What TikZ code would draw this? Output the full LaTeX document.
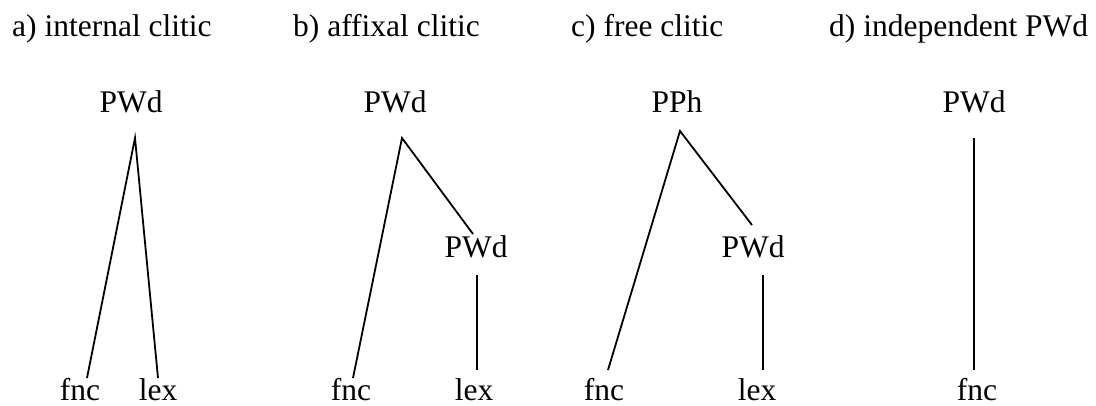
\documentclass[tikz,border=0pt]{standalone}
\usepackage{fontspec}
\setmainfont{Liberation Serif}
\begin{document}
\begin{tikzpicture}[x=1pt,y=-1pt,
  lbl/.style={inner sep=0pt, anchor=base, font=\fontsize{31.5}{36}\selectfont},
  ttl/.style={inner sep=0pt, anchor=base west, font=\fontsize{31.5}{36}\selectfont},
  edge/.style={line width=1.8pt, line cap=butt}]
\useasboundingbox (0,0) rectangle (1096,405);
% titles
\node[ttl] (ta) at (12,36) {a) internal clitic};
\node[ttl] (tb) at (293,36) {b) affixal clitic};
\node[ttl] (tc) at (571,36) {c) free clitic};
\node[ttl] (td) at (829,36) {d) independent PWd};
% a) internal clitic
\node[lbl] (aTop) at (131,112) {PWd};
\node[lbl] (aFnc) at (80,400) {fnc};
\node[lbl] (aLex) at (158,400) {lex};
\coordinate (aAp) at (135,138);
\coordinate (aF) at (87,378);
\coordinate (aL) at (158,378);
\draw[edge] (aF) -- (aAp) -- (aL);
% b) affixal clitic
\node[lbl] (bTop) at (395,112) {PWd};
\node[lbl] (bMid) at (476,257) {PWd};
\node[lbl] (bFnc) at (351,400) {fnc};
\node[lbl] (bLex) at (474,400) {lex};
\coordinate (bAp) at (402,138);
\coordinate (bF) at (353,378);
\coordinate (bM) at (473,234);
\coordinate (bV1) at (477,275);
\coordinate (bV2) at (477,370);
\draw[edge] (bF) -- (bAp) -- (bM);
\draw[edge] (bV1) -- (bV2);
% c) free clitic
\node[lbl] (cTop) at (677,112) {PPh};
\node[lbl] (cMid) at (753,257) {PWd};
\node[lbl] (cFnc) at (604,400) {fnc};
\node[lbl] (cLex) at (757,400) {lex};
\coordinate (cAp) at (680,131);
\coordinate (cF) at (608,370);
\coordinate (cM) at (752,225);
\coordinate (cV1) at (763,275);
\coordinate (cV2) at (763,370);
\draw[edge] (cF) -- (cAp) -- (cM);
\draw[edge] (cV1) -- (cV2);
% d) independent PWd
\node[lbl] (dTop) at (974,112) {PWd};
\node[lbl] (dFnc) at (977,400) {fnc};
\coordinate (dV1) at (974,138);
\coordinate (dV2) at (974,370);
\draw[edge] (dV1) -- (dV2);
\end{tikzpicture}
\end{document}
